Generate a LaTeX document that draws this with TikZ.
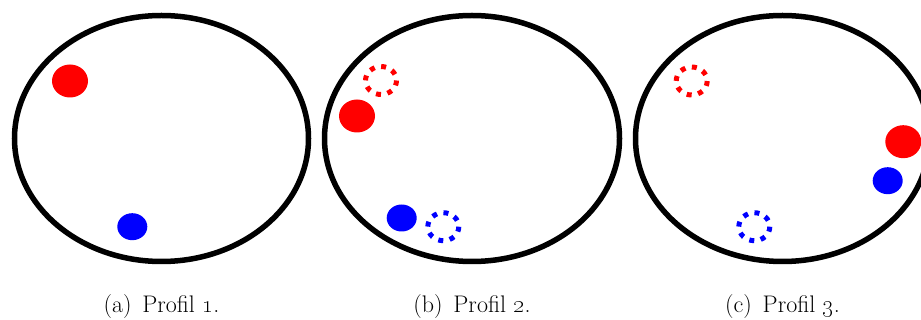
\documentclass[tikz,border=0pt]{standalone}
\begin{document}
\begin{tikzpicture}[x=1pt,y=-1pt,
  arena/.style={draw=black,line width=5.5pt},
  reddot/.style={fill=red},
  bluedot/.style={fill=blue},
  redghost/.style={draw=red,line width=5pt,dash pattern=on 5pt off 6.6pt},
  blueghost/.style={draw=blue,line width=5pt,dash pattern=on 5pt off 6.6pt},
  caption/.style={anchor=base,inner sep=0pt,font=\fontsize{24}{28}\selectfont}]
\useasboundingbox (0,0) rectangle (921,320);
\clip (0,0) rectangle (921,320);
% (a)
\draw[arena] (161.5,138.5) ellipse [x radius=147, y radius=123];
\fill[reddot] (70,81) ellipse [x radius=18, y radius=16.5];
\fill[bluedot] (132.3,226.7) ellipse [x radius=15, y radius=13.5];
\node[caption] (capa) at (161.5,312.7) {(a)\hspace{0.45em}Profil \oldstylenums{1}.};
% (b)
\draw[arena] (472,138.5) ellipse [x radius=147.5, y radius=123];
\draw[redghost] (381,80.5) ellipse [x radius=15.5, y radius=14];
\draw[blueghost] (443.3,226.7) ellipse [x radius=15.5, y radius=14];
\fill[reddot] (357,116) ellipse [x radius=18, y radius=16.5];
\fill[bluedot] (401.7,218) ellipse [x radius=15, y radius=13.5];
\node[caption] (capb) at (472,312.7) {(b)\hspace{0.45em}Profil \oldstylenums{2}.};
% (c)
\draw[arena] (782.5,138.5) ellipse [x radius=147, y radius=123];
\draw[redghost] (691.7,81) ellipse [x radius=15.5, y radius=14];
\draw[blueghost] (754.3,226.7) ellipse [x radius=15.5, y radius=14];
\fill[reddot] (903.3,141.7) ellipse [x radius=18, y radius=16.5];
\fill[bluedot] (887.7,180.7) ellipse [x radius=15, y radius=13.5];
\node[caption] (capc) at (782.5,312.7) {(c)\hspace{0.45em}Profil \oldstylenums{3}.};
\end{tikzpicture}
\end{document}
